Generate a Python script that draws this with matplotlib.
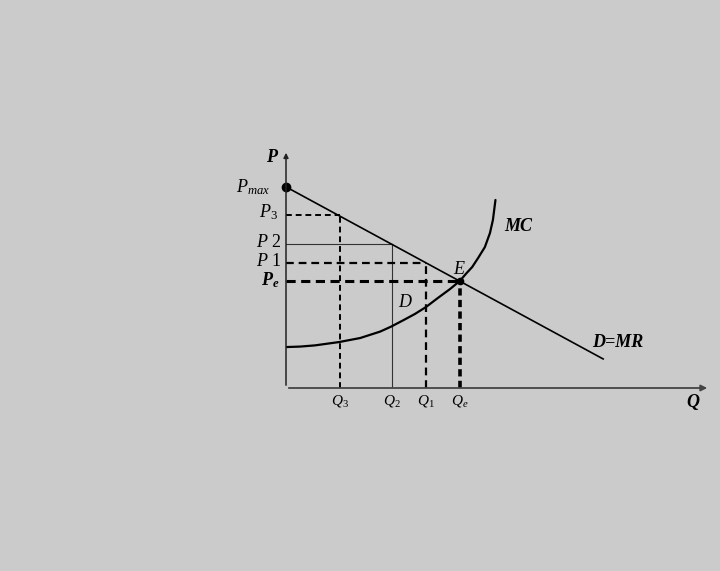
import matplotlib
matplotlib.use('Agg')
import matplotlib.pyplot as plt

plt.rcParams['font.family'] = ['Liberation Serif', 'DejaVu Serif']
plt.rcParams['mathtext.fontset'] = 'custom'
plt.rcParams['mathtext.rm'] = 'Liberation Serif'
plt.rcParams['mathtext.it'] = 'Liberation Serif:italic'
plt.rcParams['mathtext.bf'] = 'Liberation Serif:bold:italic'

# demand line D=MR
d_q = [0.0, 7.48]
d_p = [8.45, 1.22]

# MC curve
mc_q = [0.00, 0.33, 0.68, 1.25, 1.75, 2.22, 2.48, 2.78, 3.04, 3.30,
        3.58, 3.87, 4.10, 4.25, 4.39, 4.53, 4.69, 4.81, 4.88, 4.94]
mc_p = [1.72, 1.74, 1.79, 1.93, 2.10, 2.37, 2.58, 2.86, 3.11, 3.40,
        3.78, 4.16, 4.50, 4.81, 5.08, 5.46, 5.92, 6.51, 7.06, 7.90]

# price / quantity levels
p_max = 8.45
q3, p3 = 1.27, 7.27
q2, p2 = 2.50, 6.05
q1, p1 = 3.30, 5.25
qe, pe = 4.10, 4.50

bg = '#cbcbcb'
fig = plt.figure(figsize=(7.2, 5.71), dpi=100, facecolor=bg)
ax = fig.add_axes([286/720, (571-388)/571, (710-286)/720, (388-150)/571])
ax.set_facecolor(bg)
ax.set_xlim(0, 10)
ax.set_ylim(0, 10)
ax.set_axis_off()

# axes with arrows
ax.annotate('', xy=(10, 0), xytext=(0, 0),
            arrowprops=dict(arrowstyle='-|>', color='#444444', lw=1.3, mutation_scale=9),
            annotation_clip=False)
ax.annotate('', xy=(0, 10), xytext=(0, 0),
            arrowprops=dict(arrowstyle='-|>', color='#222222', lw=1.1, mutation_scale=7),
            annotation_clip=False)

# guide lines
ax.plot([0, q3], [p3, p3], color='k', lw=1.4, ls=(0, (3, 2)))
ax.plot([q3, q3], [0, p3], color='k', lw=1.4, ls=(0, (3, 2)))
ax.plot([0, q2], [p2, p2], color='#333333', lw=0.8)
ax.plot([q2, q2], [0, p2], color='#333333', lw=0.8)
ax.plot([0, q1], [p1, p1], color='k', lw=1.6, ls=(0, (3.5, 2.2)))
ax.plot([q1, q1], [0, p1], color='k', lw=1.6, ls=(0, (3.5, 2.2)))
ax.plot([0, qe], [pe, pe], color='k', lw=2.2, ls=(0, (3, 1.8)))
ax.plot([qe, qe], [0, pe], color='k', lw=2.6, ls=(0, (2, 1.2)))

# curves
ax.plot(d_q, d_p, color='k', lw=1.2)
ax.plot(mc_q, mc_p, color='k', lw=1.6, solid_capstyle='round', solid_joinstyle='round')
ax.plot([0], [p_max], 'o', color='k', ms=6, clip_on=False)
ax.plot([qe], [pe], 'o', color='k', ms=4.5)

# labels
fs = 13
ax.text(-0.33, 9.7, 'P', fontsize=fs, fontweight='bold', style='italic', ha='center', va='center')
ax.text(9.6, -0.6, 'Q', fontsize=fs, fontweight='bold', style='italic', ha='center', va='center')
ax.text(-0.38, p_max, r'$P_{max}$', fontsize=fs, ha='right', va='center')
ax.text(-0.18, p3 + 0.1, r'$P_{\mathit{3}}$', fontsize=fs, ha='right', va='center')
ax.text(-0.1, p2 + 0.08, r'$P\ 2$', fontsize=fs, ha='right', va='center')
ax.text(-0.1, p1 + 0.05, r'$P\ \mathit{1}$', fontsize=fs, ha='right', va='center')
ax.text(-0.15, pe + 0.05, r'$\mathbf{P_{e}}$', fontsize=fs, ha='right', va='center')
for q, lab in [(q3, r'$Q_{\mathit{3}}$'), (q2, r'$Q_{\mathit{2}}$'),
               (q1, r'$Q_{\mathit{1}}$'), (qe, r'$Q_{e}$')]:
    ax.text(q, -0.2, lab, fontsize=11, ha='center', va='top')
ax.text(5.47, 6.8, 'MC', fontsize=fs, fontweight='bold', style='italic', ha='center', va='center')
ax.text(7.83, 1.9, 'D=MR', fontsize=fs, fontweight='bold', style='italic', ha='center', va='center')
ax.text(4.08, 5.0, 'E', fontsize=fs, style='italic', ha='center', va='center')
ax.text(2.81, 3.6, 'D', fontsize=fs, style='italic', ha='center', va='center')

fig.savefig('out.png', dpi=100, facecolor=bg)
